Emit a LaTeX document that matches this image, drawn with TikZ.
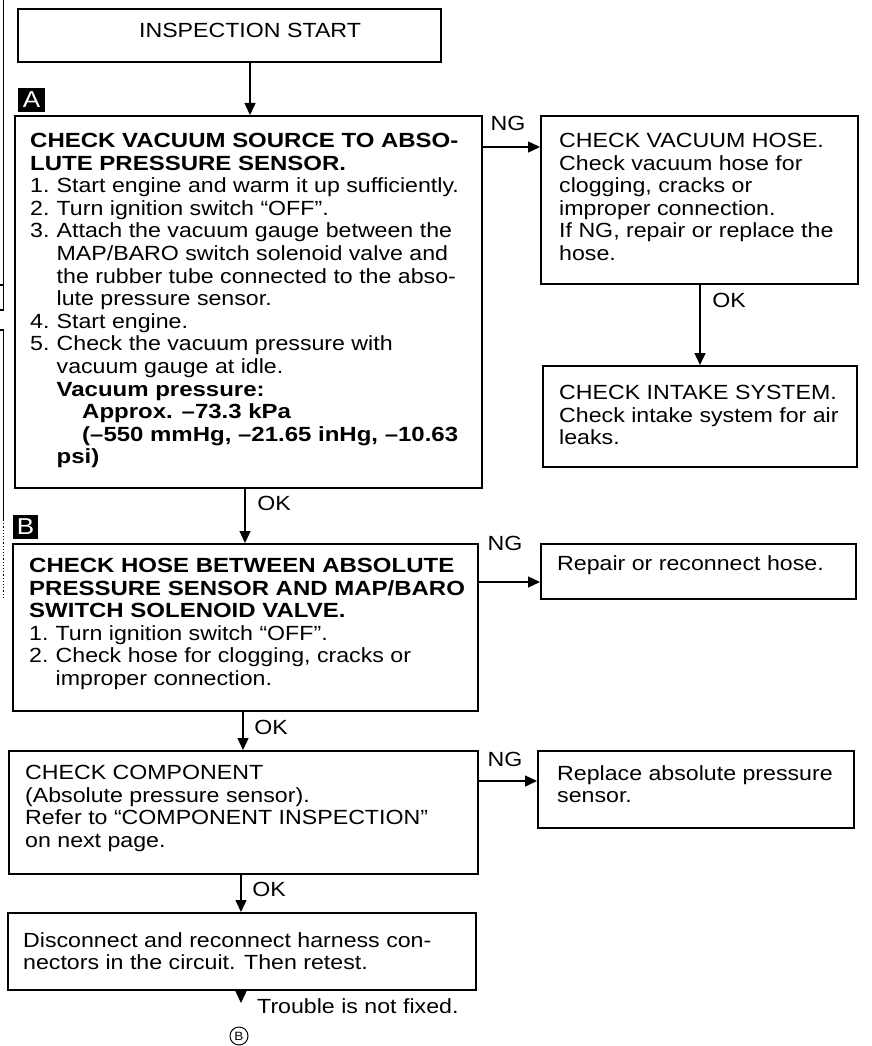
\documentclass[tikz,border=0pt]{standalone}
\usepackage{fontspec}
\setmainfont{Liberation Sans}[UprightFeatures={FakeStretch=1.13},BoldFeatures={FakeStretch=1.17}]
\usetikzlibrary{arrows.meta}
\newcommand\itm[1]{\makebox[26.5pt][l]{#1}}
\newcommand\ind{\hspace*{26.5pt}}
\begin{document}
\begin{tikzpicture}[x=1pt,y=-1pt,
  box/.style={draw,line width=1.8pt,rectangle,inner sep=0pt,anchor=north west},
  conn/.style={line width=1.4pt,-{Triangle[length=12pt,width=11pt]}},
  txt/.style={anchor=north west,inner sep=0pt,align=left,font=\fontsize{20.5}{22.6}\selectfont},
  lbl/.style={inner sep=0pt,font=\fontsize{20.5}{22.6}\selectfont},
  tag/.style={fill=black,text=white,inner sep=0pt,font=\fontsize{23}{23}\selectfont},
  edge/.style={line width=1.2pt}]
\useasboundingbox (0,0) rectangle (872,1046);

% boxes
\node[box,minimum width=423pt,minimum height=53pt] (start) at (17,8) {};
\node[box,minimum width=467pt,minimum height=372pt] (A) at (14,115) {};
\node[box,minimum width=317pt,minimum height=168pt] (hose) at (540,115) {};
\node[box,minimum width=314pt,minimum height=101pt] (intake) at (542,365) {};
\node[box,minimum width=465pt,minimum height=167pt] (B) at (12,543) {};
\node[box,minimum width=315pt,minimum height=55pt] (repair) at (540,543) {};
\node[box,minimum width=469pt,minimum height=123pt] (comp) at (8,750) {};
\node[box,minimum width=316pt,minimum height=77pt] (replace) at (537,750) {};
\node[box,minimum width=468pt,minimum height=77pt] (final) at (7,912) {};

% tags
\node[tag,minimum width=27pt,minimum height=24pt] (tA) at (31.5,100) {A};
\node[tag,minimum width=25pt,minimum height=24pt] (tB) at (25.5,527) {B};

% texts
\node[lbl,anchor=base] (tstart) at (250,38) {INSPECTION START};
\node[txt] (txA) at (30,133) {%
\textbf{CHECK VACUUM SOURCE TO ABSO-}\\
\textbf{LUTE PRESSURE SENSOR.}\\
\itm{1.}Start engine and warm it up sufficiently.\\
\itm{2.}Turn ignition switch “OFF”.\\
\itm{3.}Attach the vacuum gauge between the\\
\ind MAP/BARO switch solenoid valve and\\
\ind the rubber tube connected to the abso-\\
\ind lute pressure sensor.\\
\itm{4.}Start engine.\\
\itm{5.}Check the vacuum pressure with\\
\ind vacuum gauge at idle.\\
\ind\textbf{Vacuum pressure:}\\
\hspace*{52pt}\textbf{Approx. –73.3 kPa}\\
\hspace*{52pt}\textbf{(–550 mmHg, –21.65 inHg, –10.63}\\
\ind\textbf{psi)}};
\node[txt] (txhose) at (559,133) {%
CHECK VACUUM HOSE.\\
Check vacuum hose for\\
clogging, cracks or\\
improper connection.\\
If NG, repair or replace the\\
hose.};
\node[txt] (txintake) at (559,385) {%
CHECK INTAKE SYSTEM.\\
Check intake system for air\\
leaks.};
\node[txt] (txB) at (29,558) {%
\textbf{CHECK HOSE BETWEEN ABSOLUTE}\\
\textbf{PRESSURE SENSOR AND MAP/BARO}\\
\textbf{SWITCH SOLENOID VALVE.}\\
\itm{1.}Turn ignition switch “OFF”.\\
\itm{2.}Check hose for clogging, cracks or\\
\ind improper connection.};
\node[txt] (txrepair) at (557,555) {Repair or reconnect hose.};
\node[txt] (txcomp) at (25,765) {%
CHECK COMPONENT\\
(Absolute pressure sensor).\\
Refer to “COMPONENT INSPECTION”\\
on next page.};
\node[txt] (txreplace) at (557,765) {%
Replace absolute pressure\\
sensor.};
\node[txt] (txfinal) at (23,932) {%
Disconnect and reconnect harness con-\\
nectors in the circuit. Then retest.};

% connector reference coordinates
\coordinate (x1) at (250,0);
\coordinate (x2) at (700,0);
\coordinate (x3) at (245,0);
\coordinate (x4) at (243,0);
\coordinate (x5) at (241,0);
\coordinate (y1) at (0,147);
\coordinate (y2) at (0,582);
\coordinate (y3) at (0,781);
\coordinate (endpt) at (241,1003);

% connectors
\draw[conn] (start.south -| x1) -- (A.north -| x1);
\draw[conn] (A.east |- y1) -- (hose.west |- y1);
\draw[conn] (hose.south -| x2) -- (intake.north -| x2);
\draw[conn] (A.south -| x3) -- (B.north -| x3);
\draw[conn] (B.east |- y2) -- (repair.west |- y2);
\draw[conn] (B.south -| x4) -- (comp.north -| x4);
\draw[conn] (comp.east |- y3) -- (replace.west |- y3);
\draw[conn] (comp.south -| x5) -- (final.north -| x5);
\draw[conn] (final.south -| x5) -- (endpt);

% connector labels
\node[lbl] (ng1) at (508,123) {NG};
\node[lbl] (ok1) at (729,300) {OK};
\node[lbl] (ok2) at (274,503) {OK};
\node[lbl] (ng2) at (505,543) {NG};
\node[lbl] (ok3) at (271,727) {OK};
\node[lbl] (ng3) at (505,759) {NG};
\node[lbl] (ok4) at (269,889) {OK};
\node[lbl,anchor=base west] (trouble) at (257,1013) {Trouble is not fixed.};
\node[circle,draw,line width=1pt,inner sep=0pt,minimum size=18pt,font=\fontsize{12}{12}\selectfont] (cB) at (239,1036) {B};

% partial edges of neighbouring content at the left margin
\draw[edge] (3.5,0) -- (3.5,310) -- (0,310);
\draw[edge] (0,285) -- (3.5,285);
\draw[edge] (0,330) -- (3.5,330) -- (3.5,520);
\draw[edge,dotted] (3.5,520) -- (3.5,600);
\end{tikzpicture}
\end{document}
